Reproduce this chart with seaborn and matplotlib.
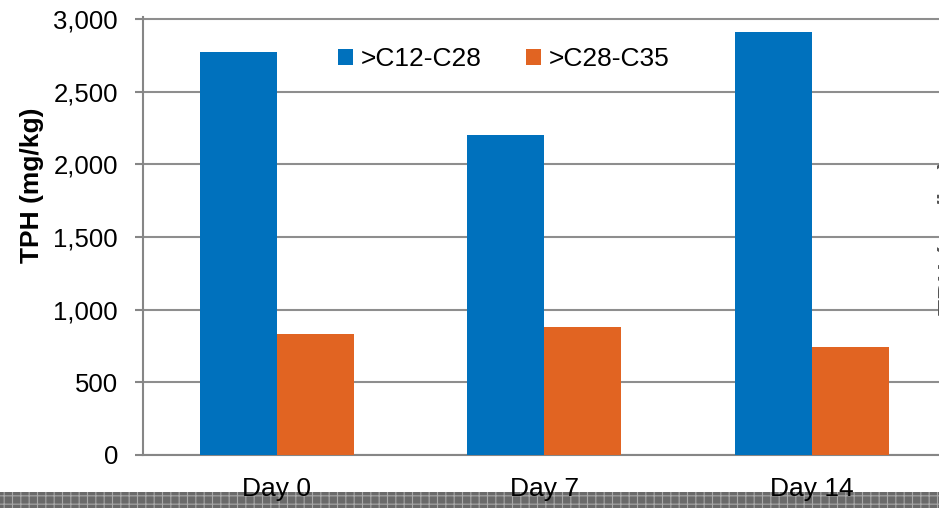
import matplotlib
matplotlib.use("Agg")
import matplotlib.pyplot as plt
import matplotlib.ticker as mticker
from matplotlib.patches import Rectangle
import seaborn as sns
import pandas as pd

# Sampling days and TPH fractions
days = ["Day 0", "Day 7", "Day 14"]
fractions = [">C12-C28", ">C28-C35"]
tph_c12_c28 = [2775, 2200, 2910]
tph_c28_c35 = [830, 880, 740]
y_ticks = [0, 500, 1000, 1500, 2000, 2500, 3000]

df = pd.DataFrame({
    "Day": days * 2,
    "Fraction": [fractions[0]] * 3 + [fractions[1]] * 3,
    "TPH": tph_c12_c28 + tph_c28_c35,
})

sns.set_theme(style="white")
plt.rcParams["font.family"] = ["Liberation Sans", "DejaVu Sans"]
plt.rcParams["hatch.linewidth"] = 0.8

W, H = 939, 508
fig = plt.figure(figsize=(W / 100, H / 100), dpi=100)
fig.patch.set_facecolor("white")

# Plot area runs off the right edge of the canvas
ax = fig.add_axes([143 / W, 53 / H, 802.5 / W, 437.5 / H])

palette = {fractions[0]: "#0071BD", fractions[1]: "#E16422"}
sns.barplot(data=df, x="Day", y="TPH", hue="Fraction", order=days,
            hue_order=fractions, palette=palette, width=0.575,
            saturation=1, ax=ax, errorbar=None, zorder=3, linewidth=0,
            edgecolor="none")

axis_grey = "#868686"
ax.set_xlim(-0.5, 2.5)
ax.set_ylim(0, 3010)
ax.set_yticks(y_ticks)
ax.yaxis.set_major_formatter(mticker.FuncFormatter(lambda v, p: f"{int(v):,}"))
ax.set_axisbelow(True)
ax.yaxis.grid(True, color="#8E8E8E", linewidth=1.5)
ax.xaxis.grid(False)

for side in ("top", "right"):
    ax.spines[side].set_visible(False)
for side in ("left", "bottom"):
    ax.spines[side].set_color(axis_grey)
    ax.spines[side].set_linewidth(1.5)

# Category separators as minor ticks, labels on the major ticks
ax.set_xticks([-0.5, 0.5, 1.5, 2.5], minor=True)
ax.tick_params(axis="x", which="major", length=0, pad=16, labelsize=19,
               labelcolor="black")
ax.tick_params(axis="x", which="minor", length=6, width=1.5, color=axis_grey,
               direction="out")
ax.tick_params(axis="y", which="major", length=6, width=1.5, color=axis_grey,
               direction="out", pad=12, labelsize=18.5, labelcolor="black",
               left=True)

ax.set_xlabel("")
ax.set_ylabel("TPH (mg/kg)", fontsize=19, fontweight="bold", color="black")
ax.yaxis.set_label_coords(-0.1234, 0.617)

leg = ax.legend(loc="center", bbox_to_anchor=(504 / W, 1 - 59 / H),
                bbox_transform=fig.transFigure, ncol=2, frameon=False,
                fontsize=19, handlelength=0.55, handleheight=0.55,
                handletextpad=0.3, columnspacing=1.7, borderpad=0)
for t in leg.get_texts():
    t.set_color("black")

# Secondary label, mostly cut off at the right edge
fig.text(950 / W, 1 - 237 / H, "TPH (mg/kg)", rotation=90, fontsize=19,
         fontweight="bold", color="#555555", ha="center", va="center")

# Textured strip along the bottom edge
fig.patches.append(Rectangle((0, 0), 1, 16 / H, transform=fig.transFigure,
                             facecolor="#6a6a6a", edgecolor="#a8a8a8",
                             hatch="++", linewidth=0, zorder=-1))

fig.savefig("out.png", dpi=100)
